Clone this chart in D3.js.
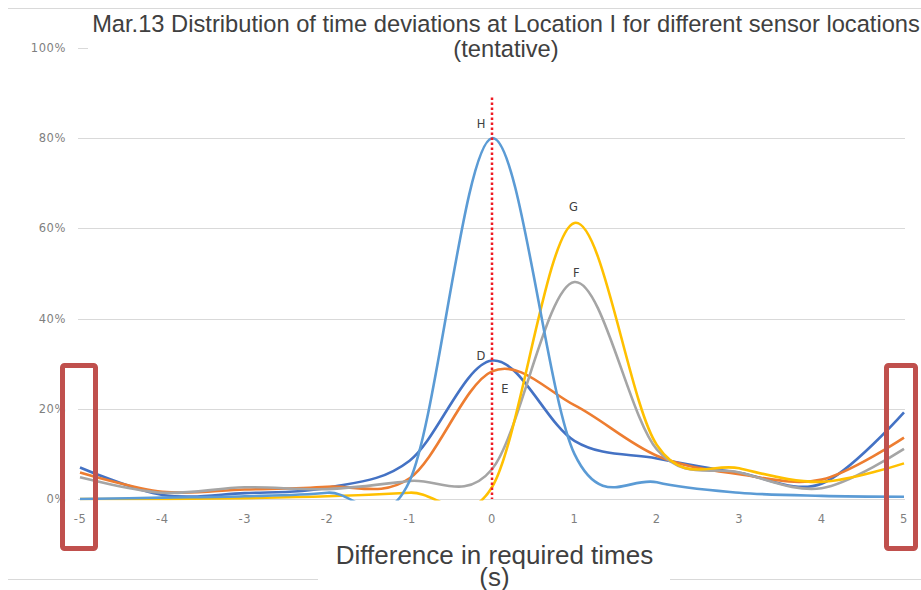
<!DOCTYPE html>
<html>
<head>
<meta charset="utf-8">
<script src="https://cdnjs.cloudflare.com/ajax/libs/d3/7.8.5/d3.min.js"></script>
<style>
  body { margin: 0; background: #fff; }
  svg { display: block; }
</style>
</head>
<body>
<svg width="921" height="590"></svg>
<script>
// Data (share of runs, %)
var xValues = [-5, -4, -3, -2, -1, 0, 1, 2, 3, 4, 5];
var seriesNames = ["D", "E", "F", "G", "H"];
var valuesD = [7.0, 0.9, 1.3, 2.5, 8.5, 30.7, 12.9, 9.0, 5.8, 3.4, 19.2];
var valuesE = [5.9, 1.6, 2.1, 2.7, 4.6, 28.3, 20.8, 9.6, 5.5, 4.3, 13.6];
var valuesF = [4.8, 1.4, 2.6, 2.2, 4.0, 6.6, 48.1, 11.0, 5.9, 2.4, 11.1];
var valuesG = [0.0, 0.0, 0.2, 0.6, 1.4, 2.6, 61.2, 12.0, 6.8, 3.8, 7.9];
var valuesH = [0.0, 0.3, 0.6, 1.4, 4.0, 80.0, 10.0, 3.7, 1.4, 0.7, 0.5];
var yTicks = [0, 20, 40, 60, 80, 100];
var titleLines = ["Mar.13 Distribution of time deviations at Location I for different sensor locations", "(tentative)"];
var xTitleLines = ["Difference in required times", "(s)"];

var colors = ["#4472c4", "#ed7d31", "#a5a5a5", "#ffc000", "#5b9bd5"];
var series = [valuesD, valuesE, valuesF, valuesG, valuesH];

var svg = d3.select("svg"),
    width = +svg.attr("width"),
    height = +svg.attr("height");

var x = d3.scaleLinear().domain([-5, 5]).range([80, 904]),
    y = d3.scaleLinear().domain([0, 100]).range([499, 48]);

var tickFont = "'DejaVu Sans', sans-serif";

// chart border (top / bottom only)
svg.append("line").attr("x1", 8).attr("x2", width).attr("y1", 8.5).attr("y2", 8.5)
    .attr("stroke", "#d9d9d9");
svg.append("line").attr("x1", 8).attr("x2", width).attr("y1", 579.5).attr("y2", 579.5)
    .attr("stroke", "#d9d9d9");

// gridlines
svg.append("g").selectAll("line")
    .data(yTicks).enter()
    .append("line")
    .attr("x1", 78).attr("x2", 905)
    .attr("y1", function (d) { return Math.round(y(d)) + 0.5; })
    .attr("y2", function (d) { return Math.round(y(d)) + 0.5; })
    .attr("stroke", "#d9d9d9")
    .attr("stroke-width", 1);

// y tick labels
svg.append("g").selectAll("text")
    .data(yTicks).enter()
    .append("text")
    .attr("x", 66)
    .attr("y", function (d) { return y(d); })
    .attr("dy", "0.35em")
    .attr("text-anchor", "end")
    .style("font-family", tickFont)
    .style("font-size", "11.5px")
    .style("letter-spacing", "0.6px")
    .attr("fill", "#7f7f7f")
    .text(function (d) { return d + "%"; });

// x tick labels
svg.append("g").selectAll("text")
    .data(xValues).enter()
    .append("text")
    .attr("x", function (d) { return x(d); })
    .attr("y", 519)
    .attr("dy", "0.35em")
    .attr("text-anchor", "middle")
    .style("font-family", tickFont)
    .style("font-size", "11.5px")
    .style("letter-spacing", "0.6px")
    .attr("fill", "#7f7f7f")
    .text(function (d) { return d; });

// clip lines to the plot area like Excel does
svg.append("clipPath").attr("id", "plot")
    .append("rect")
    .attr("x", 0).attr("y", y(100))
    .attr("width", width).attr("height", y(0) - y(100) + 1.5);

var line = d3.line()
    .x(function (d, i) { return x(xValues[i]); })
    .y(function (d) { return y(d); })
    .curve(d3.curveCatmullRom.alpha(0));

svg.append("g")
    .attr("clip-path", "url(#plot)")
    .selectAll("path")
    .data(series).enter()
    .append("path")
    .attr("d", line)
    .attr("fill", "none")
    .attr("stroke", function (d, i) { return colors[i]; })
    .attr("stroke-width", 2.6)
    .attr("stroke-linejoin", "round");

// red dotted reference line at 0 s
svg.append("line")
    .attr("x1", x(0)).attr("x2", x(0))
    .attr("y1", y(89)).attr("y2", y(0))
    .attr("stroke", "#ee1c25")
    .attr("stroke-width", 2.5)
    .attr("stroke-dasharray", "2.5,2.5");

// series labels next to each peak
var labelOffset = { D: [-11, -5], E: [13, 18], F: [2, -9], G: [-1, -16], H: [-11, -14] };
svg.append("g").selectAll("text")
    .data(seriesNames).enter()
    .append("text")
    .attr("x", function (d, i) {
        var k = series[i].indexOf(d3.max(series[i]));
        return x(xValues[k]) + labelOffset[d][0];
    })
    .attr("y", function (d, i) { return y(d3.max(series[i])) + labelOffset[d][1]; })
    .attr("dy", "0.35em")
    .attr("text-anchor", "middle")
    .style("font-family", tickFont)
    .style("font-size", "11.5px")
    .attr("fill", "#404040")
    .text(function (d) { return d; });

// red highlight boxes at both ends
svg.append("rect")
    .attr("x", x(-5) - 17.5).attr("y", 365.5)
    .attr("width", 33).attr("height", 183)
    .attr("rx", 2)
    .attr("fill", "none").attr("stroke", "#c0504d").attr("stroke-width", 5);
svg.append("rect")
    .attr("x", x(5) - 17.5).attr("y", 365.5)
    .attr("width", 29).attr("height", 183)
    .attr("rx", 2)
    .attr("fill", "none").attr("stroke", "#c0504d").attr("stroke-width", 5);

// chart title on a white box
svg.append("rect").attr("x", 88).attr("y", 11).attr("width", width - 88).attr("height", 56)
    .attr("fill", "#fff");
svg.append("g").selectAll("text")
    .data(titleLines).enter()
    .append("text")
    .attr("x", 506)
    .attr("y", function (d, i) { return 32 + i * 25; })
    .attr("text-anchor", "middle")
    .style("font-family", "'Liberation Sans', Arial, sans-serif")
    .style("font-size", "23.7px")
    .attr("fill", "#404040")
    .text(function (d) { return d; });

// x axis title
svg.append("rect").attr("x", 318).attr("y", 536).attr("width", 352).attr("height", 54)
    .attr("fill", "#fff");
svg.append("g").selectAll("text")
    .data(xTitleLines).enter()
    .append("text")
    .attr("x", 494.5)
    .attr("y", function (d, i) { return 564 + i * 22; })
    .attr("text-anchor", "middle")
    .style("font-family", "'Liberation Sans', Arial, sans-serif")
    .style("font-size", "26px")
    .attr("fill", "#404040")
    .text(function (d) { return d; });
</script>
</body>
</html>
